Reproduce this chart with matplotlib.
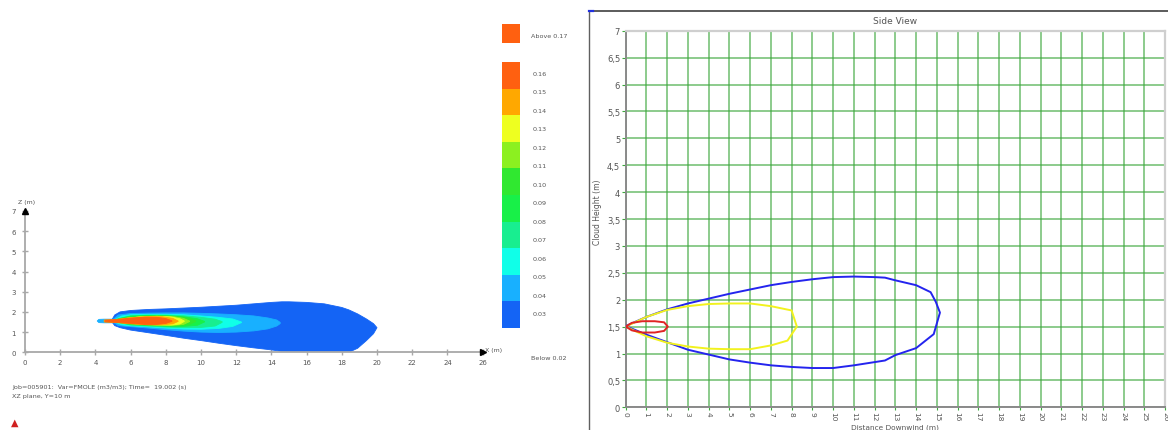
import numpy as np
import matplotlib
matplotlib.use("Agg")
import matplotlib.pyplot as plt
from matplotlib.colors import ListedColormap
from matplotlib.lines import Line2D

W, H = 1168, 431

# ---------------- data: left panel (FLACS XZ plane) ----------------
cbar_labels = ["0.16", "0.15", "0.14", "0.13", "0.12", "0.11", "0.10",
               "0.09", "0.08", "0.07", "0.06", "0.05", "0.04", "0.03"]
level_colors = ["#FF6010", "#FFA800", "#EEFF20", "#8CF020", "#30E830",
                "#18F048", "#18EE90", "#10FFE8", "#18B0FF", "#1464F5"]

x_ticks_left = list(range(0, 27, 2))
y_ticks_left = list(range(0, 8))

# plume contour bands (outer -> inner): x, top edge, bottom edge
blue_x = [4.9, 5.1, 5.4, 6, 7, 8, 9, 10, 11, 12, 13, 14, 14.6, 15, 16, 17, 18, 18.4, 18.9, 19.4, 19.8, 20.0]
blue_top = [1.55, 1.85, 2.0, 2.07, 2.12, 2.15, 2.19, 2.23, 2.28, 2.33, 2.4, 2.47, 2.5, 2.5, 2.47, 2.4, 2.22, 2.1, 1.9, 1.65, 1.42, 1.22]
blue_bot = [1.55, 1.32, 1.22, 1.1, 0.97, 0.84, 0.7, 0.58, 0.45, 0.33, 0.22, 0.12, 0.04, 0.0, 0.0, 0.0, 0.0, 0.0, 0.2, 0.58, 0.92, 1.22]

lblue_x = [5.0, 5.3, 6, 7, 8, 9, 10, 11, 12, 13, 13.8, 14.3, 14.5]
lblue_top = [1.62, 1.85, 1.92, 1.94, 1.95, 1.95, 1.93, 1.9, 1.86, 1.8, 1.7, 1.6, 1.48]
lblue_bot = [1.5, 1.32, 1.27, 1.2, 1.12, 1.05, 1.0, 0.98, 1.0, 1.06, 1.16, 1.3, 1.42]

cyan_x = [5.1, 5.5, 6, 7, 8, 9, 10, 11, 11.8, 12.3]
cyan_top = [1.62, 1.8, 1.86, 1.88, 1.88, 1.86, 1.8, 1.73, 1.65, 1.5]
cyan_bot = [1.5, 1.36, 1.31, 1.26, 1.2, 1.15, 1.14, 1.18, 1.28, 1.47]

aqua_x = [5.2, 6, 7, 8, 9, 10, 10.8, 11.2]
aqua_top = [1.64, 1.81, 1.84, 1.84, 1.81, 1.73, 1.64, 1.52]
aqua_bot = [1.5, 1.35, 1.3, 1.25, 1.22, 1.23, 1.3, 1.48]

bgreen_x = [5.3, 6, 7, 8, 9, 9.8, 10.2]
bgreen_top = [1.66, 1.79, 1.82, 1.81, 1.76, 1.66, 1.53]
bgreen_bot = [1.48, 1.37, 1.33, 1.29, 1.28, 1.34, 1.5]

green_x = [5.4, 6.5, 7.5, 8.5, 9.3, 9.7]
green_top = [1.66, 1.78, 1.8, 1.78, 1.69, 1.55]
green_bot = [1.48, 1.37, 1.33, 1.31, 1.36, 1.52]

ygreen_x = [5.5, 6.5, 7.5, 8.4, 9.0, 9.35]
ygreen_top = [1.66, 1.76, 1.79, 1.77, 1.68, 1.55]
ygreen_bot = [1.48, 1.39, 1.35, 1.33, 1.38, 1.52]

yellow_x = [5.6, 6.5, 7.5, 8.3, 8.8, 9.05]
yellow_top = [1.66, 1.75, 1.78, 1.75, 1.66, 1.55]
yellow_bot = [1.48, 1.4, 1.36, 1.35, 1.4, 1.53]

orange_x = [4.5, 5.2, 6, 7, 7.8, 8.4, 8.7]
orange_top = [1.6, 1.63, 1.71, 1.77, 1.76, 1.68, 1.55]
orange_bot = [1.5, 1.47, 1.41, 1.36, 1.36, 1.41, 1.53]

red_x = [4.55, 5.2, 6, 6.8, 7.5, 8.0, 8.35]
red_top = [1.59, 1.62, 1.69, 1.74, 1.73, 1.67, 1.56]
red_bot = [1.51, 1.48, 1.43, 1.38, 1.38, 1.43, 1.53]

tip_x = [4.1, 4.2, 4.5, 4.9, 5.1]
tip_top = [1.55, 1.63, 1.64, 1.64, 1.64]
tip_bot = [1.55, 1.47, 1.46, 1.46, 1.46]

# ---------------- data: right panel (Side View) ----------------
x_ticks_right = list(range(0, 27))
y_ticks_right = [0, 0.5, 1, 1.5, 2, 2.5, 3, 3.5, 4, 4.5, 5, 5.5, 6, 6.5, 7]
y_tick_labels_right = ["0", "0,5", "1", "1,5", "2", "2,5", "3", "3,5", "4",
                       "4,5", "5", "5,5", "6", "6,5", "7"]

sv_blue_x = [0, 1, 2, 3, 4, 5, 6, 7, 8, 9, 10, 11, 12, 12.5, 13, 14, 14.7, 14.95, 15.15,
             14.85, 14.0, 13, 12.5, 12, 11, 10, 9, 8, 7, 6, 5, 4, 3, 2, 1, 0]
sv_blue_y = [1.51, 1.68, 1.82, 1.93, 2.02, 2.11, 2.19, 2.27, 2.33, 2.38, 2.42, 2.43, 2.42, 2.41, 2.36, 2.27, 2.14, 1.96, 1.76,
             1.36, 1.1, 0.97, 0.87, 0.84, 0.78, 0.73, 0.73, 0.75, 0.78, 0.83, 0.89, 0.98, 1.07, 1.21, 1.35, 1.51]

sv_yellow_x = [0, 1, 2, 3, 4, 5, 6, 7, 8, 8.25, 7.8, 7, 6, 5, 4, 3, 2, 1, 0]
sv_yellow_y = [1.5, 1.68, 1.81, 1.88, 1.92, 1.93, 1.93, 1.88, 1.8, 1.5, 1.24, 1.15, 1.08, 1.08, 1.09, 1.13, 1.2, 1.32, 1.5]

sv_red_x = [0, 0.3, 0.8, 1.4, 1.85, 2.03, 1.85, 1.4, 0.8, 0.3, 0]
sv_red_y = [1.5, 1.57, 1.6, 1.6, 1.58, 1.5, 1.42, 1.39, 1.39, 1.43, 1.5]


def fx(px):
    return px / W


def fy(py):
    return 1 - py / H


fig = plt.figure(figsize=(W / 100, H / 100), dpi=100)
fig.patch.set_facecolor("white")

# ======================= LEFT PANEL =======================
x0p, x26p = 25, 482.6
y0p, y7p = 353.3, 211.9
axL = fig.add_axes([fx(x0p), fy(y0p), (x26p - x0p) / W, (y0p - y7p) / H])
axL.set_xlim(0, 26)
axL.set_ylim(0, 7)
axL.set_facecolor("none")

bands = [
    (blue_x, blue_top, blue_bot, level_colors[9]),
    (tip_x, tip_top, tip_bot, level_colors[8]),
    (lblue_x, lblue_top, lblue_bot, level_colors[8]),
    (cyan_x, cyan_top, cyan_bot, level_colors[7]),
    (aqua_x, aqua_top, aqua_bot, level_colors[6]),
    (bgreen_x, bgreen_top, bgreen_bot, level_colors[5]),
    (green_x, green_top, green_bot, level_colors[4]),
    (ygreen_x, ygreen_top, ygreen_bot, level_colors[3]),
    (yellow_x, yellow_top, yellow_bot, level_colors[2]),
    (orange_x, orange_top, orange_bot, level_colors[1]),
    (red_x, red_top, red_bot, level_colors[0]),
]
for bx, bt, bb, col in bands:
    bx = np.asarray(bx, float)
    axL.fill(np.r_[bx, bx[::-1]], np.r_[bt, bb[::-1]], color=col, lw=0.6,
             ec=col, zorder=2)

for s in ["top", "right"]:
    axL.spines[s].set_visible(False)
for s in ["bottom", "left"]:
    axL.spines[s].set_color("#a8a8a8")
    axL.spines[s].set_linewidth(1.3)
axL.set_xticks(x_ticks_left)
axL.set_xticklabels([str(v) for v in x_ticks_left])
axL.set_yticks(y_ticks_left)
axL.set_yticklabels([str(v) for v in y_ticks_left])
axL.tick_params(axis="both", direction="inout", length=5, width=1.0,
                color="#a8a8a8", labelsize=5, labelcolor="#555555", pad=2)
axL.tick_params(axis="y", pad=4)
# axis arrows
axL.plot([26], [0], marker=">", color="black", ms=4, clip_on=False, zorder=5)
axL.plot([0], [7], marker="^", color="black", ms=4, clip_on=False, zorder=5)
fig.text(fx(485), fy(351), "X (m)", fontsize=4.5, color="#555555", va="center")
fig.text(fx(18), fy(203), "Z (m)", fontsize=4.5, color="#555555", va="center")

fig.text(fx(12), fy(388), "Job=005901:  Var=FMOLE (m3/m3); Time=  19.002 (s)",
         fontsize=4.6, color="#555555", va="center")
fig.text(fx(12), fy(397), "XZ plane, Y=10 m", fontsize=4.6, color="#555555",
         va="center")
fig.text(fx(15), fy(423), "\u25B2", fontsize=7, color="#D02020", ha="center",
         va="center")

# colour bar
axC = fig.add_axes([fx(502), fy(329), 18 / W, (329 - 63) / H])
axC.imshow(np.arange(10)[:, None], cmap=ListedColormap(level_colors),
           aspect="auto", interpolation="nearest")
axC.set_xticks([])
axC.set_yticks([])
for s in axC.spines.values():
    s.set_visible(False)

axA = fig.add_axes([fx(502), fy(44), 18 / W, 19 / H])
axA.set_facecolor(level_colors[0])
axA.set_xticks([])
axA.set_yticks([])
for s in axA.spines.values():
    s.set_visible(False)

fig.text(fx(531), fy(36), "Above 0.17", fontsize=4.6, color="#555555",
         va="center")
lab_top, lab_bot = 74, 315
for i, lab in enumerate(cbar_labels):
    py = lab_top + i * (lab_bot - lab_top) / (len(cbar_labels) - 1)
    fig.text(fx(533), fy(py), lab, fontsize=4.6, color="#555555", va="center")
fig.text(fx(531), fy(359), "Below 0.02", fontsize=4.6, color="#555555",
         va="center")

# ======================= RIGHT PANEL =======================
fig.add_artist(Line2D([fx(589), fx(1168)], [fy(12), fy(12)], color="#404040",
                      lw=1.2))
fig.add_artist(Line2D([fx(589), fx(589)], [fy(12), fy(431)], color="#606060",
                      lw=1.0))
fig.add_artist(Line2D([fx(589), fx(593)], [fy(12), fy(12)], color="#2030E0",
                      lw=1.6))

xr0, xr26 = 625.7, 1165
yr0, yr7 = 408.3, 31.7
axR = fig.add_axes([fx(xr0), fy(yr0), (xr26 - xr0) / W, (yr0 - yr7) / H])
axR.set_xlim(0, 26)
axR.set_ylim(0, 7)
axR.set_xticks(x_ticks_right)
axR.set_xticklabels([str(v) for v in x_ticks_right], rotation=-90)
axR.set_yticks(y_ticks_right)
axR.set_yticklabels(y_tick_labels_right)
axR.grid(True, color="#3DA83D", lw=1.1, alpha=0.75)
axR.set_axisbelow(True)
axR.tick_params(axis="both", length=3, color="#3DA83D", labelsize=6,
                labelcolor="#555555", pad=1)
axR.tick_params(axis="x", length=2, labelsize=5.3, pad=0.5)
for s in ["bottom", "left"]:
    axR.spines[s].set_color("#8a8a8a")
    axR.spines[s].set_linewidth(1.4)
for s in ["top", "right"]:
    axR.spines[s].set_color("#cfcfcf")
    axR.spines[s].set_linewidth(1.6)

axR.plot(sv_blue_x, sv_blue_y, color="#2424EE", lw=1.4, zorder=3)
axR.plot(sv_yellow_x, sv_yellow_y, color="#F2F21E", lw=1.4, zorder=3)
axR.plot(sv_red_x, sv_red_y, color="#E02424", lw=1.4, zorder=4)

fig.text(fx(895), fy(21), "Side View", fontsize=6.5, color="#555555",
         ha="center", va="center")
fig.text(fx(598), fy(212), "Cloud Height (m)", fontsize=5.5, color="#555555",
         ha="center", va="center", rotation=90)
fig.text(fx(895), fy(430.8), "Distance Downwind (m)", fontsize=5.3,
         color="#555555", ha="center", va="bottom")

fig.savefig("out.png", dpi=100, facecolor="white")
